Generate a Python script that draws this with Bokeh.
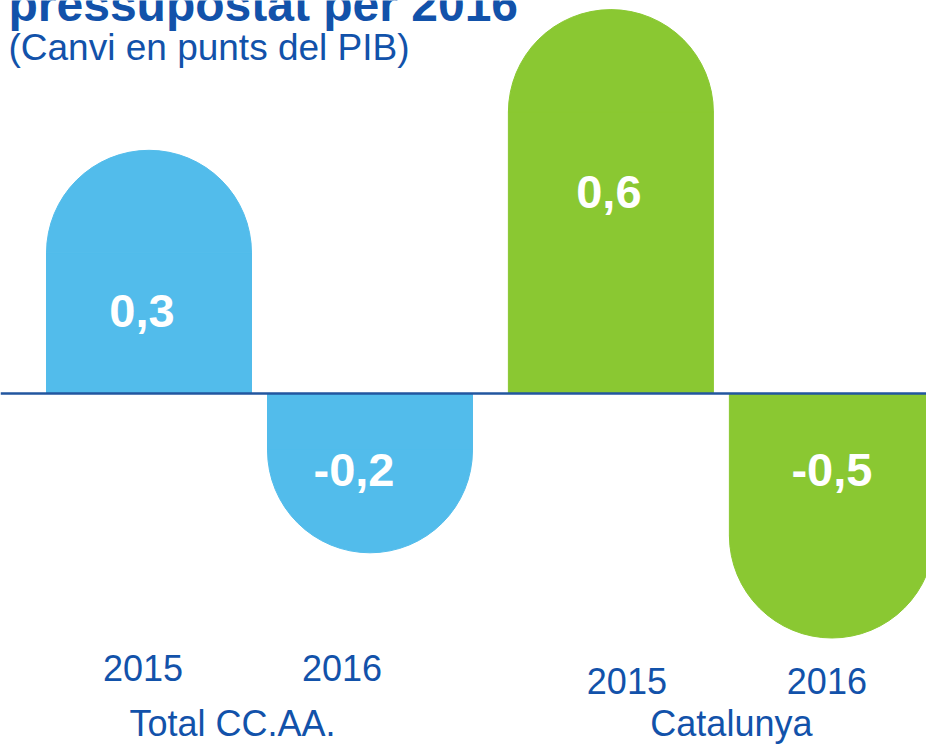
import numpy as np
from bokeh.plotting import figure
from bokeh.models import ColumnDataSource, Range1d, Span, Label
from bokeh.core.properties import value
from bokeh.embed import file_html
from bokeh.resources import INLINE

# ---------------- data ----------------
groups = ["Total CC.AA.", "Catalunya"]
years = ["2015", "2016"]
values_total = [0.3, -0.2]
values_cat = [0.6, -0.5]
labels_total = ["0,3", "-0,2"]
labels_cat = ["0,6", "-0,5"]
title_text = "pressupostat per 2016"
subtitle_text = "(Canvi en punts del PIB)"

# ---------------- style / layout ----------------
BLUE = "#52BCEB"
GREEN = "#8AC832"
TEXT = "#1252AA"
LINE = "#22569F"
FONT = value("Liberation Sans")
group_colors = [BLUE, GREEN]

W, H = 926, 744
PX_X = 221.0          # pixels per x unit
X0_PX = 148.5         # canvas pixel of first bar centre
GAP = 0.09            # extra gap between groups (x units)
BAR_W = 205 / PX_X
ZERO_PX = 393         # canvas pixel (from top) of the zero line
POS_SCALE = 469.0     # px per unit, positive side
NEG_SCALE = 284.0     # px per unit, negative side

# small horizontal nudges (screen px) of the texts, as in the original layout
VALUE_LABEL_DX = [-7, -16, -2, 0]
YEAR_LABEL_DX = [-6, -28, 16, -5]
GROUP_LABEL_DX = [-27, 10]

series = [values_total, values_cat]
series_labels = [labels_total, labels_cat]

xs, vals, cols, txts, yrs, grp = [], [], [], [], [], []
for gi, g in enumerate(groups):
    for yi, yr in enumerate(years):
        xs.append(gi * len(years) + yi + gi * GAP)
        vals.append(series[gi][yi])
        cols.append(group_colors[gi])
        txts.append(series_labels[gi][yi])
        yrs.append(yr)
        grp.append(gi)
xs = np.array(xs)
vals = np.array(vals)
cols = np.array(cols)
grp = np.array(grp)
hw = BAR_W / 2

pos = vals > 0
neg = ~pos

src_pos = ColumnDataSource(dict(x=xs[pos], left=xs[pos] - hw, right=xs[pos] + hw,
                                v=vals[pos], c=cols[pos]))
src_neg = ColumnDataSource(dict(x=xs[neg], left=xs[neg] - hw, right=xs[neg] + hw,
                                v=vals[neg], c=cols[neg]))

x_start = -X0_PX / PX_X
y_top = ZERO_PX / POS_SCALE
p = figure(width=W, height=H,
           x_range=Range1d(x_start, x_start + W / PX_X),
           y_range=Range1d(-(H - ZERO_PX) / POS_SCALE, y_top),
           output_backend="svg", toolbar_location=None,
           x_axis_location=None, y_axis_location=None, min_border=0)
p.extra_y_ranges = {"neg": Range1d(-(H - ZERO_PX) / NEG_SCALE, ZERO_PX / NEG_SCALE)}
p.grid.visible = False
p.outline_line_color = None
p.background_fill_color = "white"
p.border_fill_color = "white"

# positive bars: rectangle + upper semicircle
p.quad(left="left", right="right", bottom=0, top="v", source=src_pos,
       fill_color="c", line_color="c", line_width=1)
p.wedge(x="x", y="v", radius=hw, start_angle=0, end_angle=np.pi, source=src_pos,
        fill_color="c", line_color="c", line_width=1)
# negative bars: rectangle + lower semicircle (own scale)
p.quad(left="left", right="right", bottom="v", top=0, source=src_neg,
       fill_color="c", line_color="c", line_width=1, y_range_name="neg")
p.wedge(x="x", y="v", radius=hw, start_angle=np.pi, end_angle=2 * np.pi, source=src_neg,
        fill_color="c", line_color="c", line_width=1, y_range_name="neg")

# zero line
p.add_layout(Span(location=0, dimension="width", line_color=LINE, line_width=2.5))

# value labels inside bars
lab_src = ColumnDataSource(dict(
    x=xs, y=np.where(pos, vals * 0.845, 0.0), t=txts,
    xo=VALUE_LABEL_DX, yo=np.where(pos, 36, 76)))
p.text(x="x", y="y", text="t", x_offset="xo", y_offset="yo", source=lab_src,
       text_align="center", text_baseline="middle", text_color="white",
       text_font=FONT, text_font_style="bold", text_font_size="47px")

# year labels
yr_src = ColumnDataSource(dict(x=xs, t=yrs, xo=YEAR_LABEL_DX,
                               yo=np.where(grp == 0, 274, 287)))
p.text(x="x", y=0, text="t", x_offset="xo", y_offset="yo", source=yr_src,
       text_align="center", text_baseline="middle", text_color=TEXT,
       text_font=FONT, text_font_size="36px")

# group labels
gx = [xs[grp == gi].mean() for gi in range(len(groups))]
g_src = ColumnDataSource(dict(x=gx, t=groups, xo=GROUP_LABEL_DX))
p.text(x="x", y=0, text="t", x_offset="xo", y_offset=330, source=g_src,
       text_align="center", text_baseline="middle", text_color=TEXT,
       text_font=FONT, text_font_size="36px")

# title and subtitle
p.add_layout(Label(x=x_start + 8 / PX_X, y=y_top - 4 / POS_SCALE, text=title_text,
                   text_color=TEXT, text_font="Liberation Sans", text_font_style="bold",
                   text_font_size="48px", text_baseline="middle", text_align="left"))
p.add_layout(Label(x=x_start + 8 / PX_X, y=y_top - 47 / POS_SCALE, text=subtitle_text,
                   text_color=TEXT, text_font="Liberation Sans",
                   text_font_size="37px", text_baseline="middle", text_align="left"))

open("out.html", "w").write(file_html(p, INLINE))
